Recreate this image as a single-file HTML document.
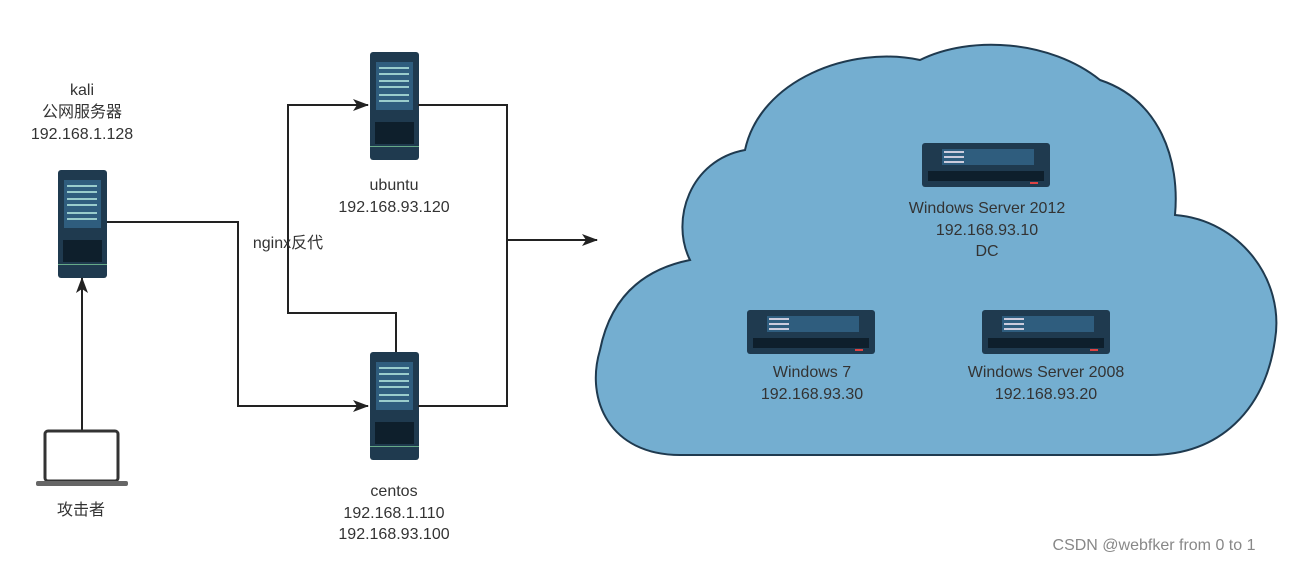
<!DOCTYPE html>
<html><head><meta charset="utf-8"><style>
body{margin:0;background:#fff;}
svg text{font-family:"Liberation Sans","Noto Sans CJK SC",sans-serif;font-size:16px;fill:#333;text-anchor:middle;}
</style></head><body>
<svg width="1291" height="561" viewBox="0 0 1291 561" xmlns="http://www.w3.org/2000/svg">
<defs>
<g id="tower">
<rect x="0" y="0" width="49" height="108" rx="3" fill="#1f3a4f"/>
<rect x="6" y="10" width="37" height="48" fill="#2f5d7e"/>
<rect x="9" y="15" width="30" height="2" fill="#9cc"/><rect x="9" y="21" width="30" height="2" fill="#9cc"/>
<rect x="9" y="28" width="30" height="2" fill="#9cc"/><rect x="9" y="34" width="30" height="2" fill="#9cc"/>
<rect x="9" y="42" width="30" height="2" fill="#9cc"/><rect x="9" y="48" width="30" height="2" fill="#9cc"/>
<rect x="5" y="70" width="39" height="22" fill="#0e1f2c"/>
<rect x="0" y="94" width="49" height="1" fill="#6a8"/>
</g>
<g id="rack">
<rect x="0" y="0" width="128" height="44" rx="3" fill="#1f3a4f"/>
<rect x="20" y="6" width="92" height="16" fill="#2f5d7e"/>
<rect x="22" y="8" width="20" height="2" fill="#ccd"/><rect x="22" y="13" width="20" height="2" fill="#ccd"/><rect x="22" y="18" width="20" height="2" fill="#ccd"/>
<rect x="6" y="28" width="116" height="10" fill="#0e1f2c"/>
<rect x="108" y="39" width="8" height="2" fill="#d44"/>
</g>
<marker id="ar" markerWidth="16" markerHeight="12" refX="15" refY="6" orient="auto" markerUnits="userSpaceOnUse"><path d="M0,0 L16,6 L0,12 L4,6 z" fill="#222"/></marker>
</defs>
<path d="M680,455 C610,455 585,400 600,350 C610,300 640,270 690,260 C670,220 690,160 745,150 C760,80 850,45 920,60 C970,35 1050,40 1100,80 C1160,100 1180,160 1175,215 C1240,220 1285,280 1275,340 C1265,410 1220,455 1150,455 Z" fill="#74aed0" stroke="#1f3a4f" stroke-width="2"/>
<use href="#tower" x="58" y="170"/>
<use href="#tower" x="370" y="52"/>
<use href="#tower" x="370" y="352"/>
<use href="#rack" x="922" y="143"/>
<use href="#rack" x="747" y="310"/>
<use href="#rack" x="982" y="310"/>
<g fill="none" stroke="#222" stroke-width="2">
<path d="M107,222 H238 V406 H368" marker-end="url(#ar)"/>
<path d="M396,352 V313 H288 V105 H368" marker-end="url(#ar)"/>
<path d="M418,105 H507 V406 H418"/>
<path d="M507,240 H597" marker-end="url(#ar)"/>
<path d="M82,430 V278" marker-end="url(#ar)"/>
</g>
<rect x="45" y="431" width="73" height="50" rx="3" fill="#fff" stroke="#333" stroke-width="3"/>
<rect x="36" y="481" width="92" height="5" rx="2" fill="#666"/>
<text x="82" y="95">kali</text>
<text x="82" y="117">公网服务器</text>
<text x="82" y="139">192.168.1.128</text>
<text x="81" y="515">攻击者</text>
<text x="394" y="190">ubuntu</text>
<text x="394" y="212">192.168.93.120</text>
<text x="288" y="248">nginx反代</text>
<text x="394" y="496">centos</text>
<text x="394" y="518">192.168.1.110</text>
<text x="394" y="539">192.168.93.100</text>
<text x="987" y="213">Windows Server 2012</text>
<text x="987" y="235">192.168.93.10</text>
<text x="987" y="256">DC</text>
<text x="812" y="377">Windows 7</text>
<text x="812" y="399">192.168.93.30</text>
<text x="1046" y="377">Windows Server 2008</text>
<text x="1046" y="399">192.168.93.20</text>
<text x="1154" y="550" style="fill:#888">CSDN @webfker from 0 to 1</text>
</svg>
</body></html>
